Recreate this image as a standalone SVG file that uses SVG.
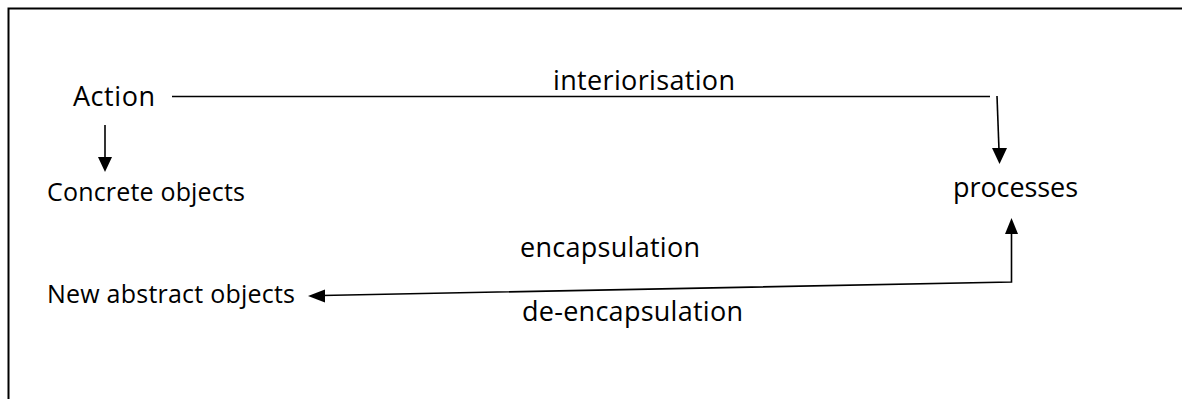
<svg xmlns="http://www.w3.org/2000/svg" width="1182" height="399" viewBox="0 0 1182 399">
<style>
.t{font-family:"Open Sans","Liberation Sans",sans-serif;fill:#000}
.big{font-size:27px}
.small{font-size:25px}
.ln{stroke:#000;stroke-width:1.6;fill:none}
</style>
<defs>
<marker id="ah" markerWidth="10" markerHeight="10" refX="9" refY="5" orient="auto" markerUnits="userSpaceOnUse" viewBox="0 0 10 10">
<path d="M0,0 L10,5 L0,10 Z" fill="#000"/>
</marker>
</defs>
<rect width="1182" height="399" fill="#fff"/>
<g id="frame">
<path d="M8.5,399 L8.5,8.5 L1182,8.5" stroke="#000" stroke-width="2" fill="none"/>
</g>
<g id="connectors">
<path class="ln" d="M172,96.5 L990,96.5"/>
<path d="M997,96 L999,150" class="ln"/>
<path d="M992,148 L1007,148 L999.5,164 Z" fill="#000"/>
<path d="M105,125 L105,158" class="ln"/>
<path d="M98,157 L112,157 L105,172 Z" fill="#000"/>
<path d="M1011.5,233 L1011.5,282 L322,295.5" class="ln"/>
<path d="M1005,234 L1018,234 L1011.5,218 Z" fill="#000"/>
<path d="M308,296 L325,289.5 L325,302.5 Z" fill="#000"/>
</g>
<g id="node-action"><text class="t big" x="73" y="106" textLength="82">Action</text></g>
<g id="node-concrete"><text class="t small" x="47" y="201" textLength="198">Concrete objects</text></g>
<g id="node-processes"><text class="t big" x="953" y="197" textLength="125">processes</text></g>
<g id="node-new-abstract"><text class="t small" x="47" y="303" textLength="248">New abstract objects</text></g>
<g id="labels">
<text class="t big" x="553" y="90" textLength="182">interiorisation</text>
<text class="t big" x="520" y="257" textLength="180">encapsulation</text>
<text class="t big" x="522" y="321" textLength="221">de-encapsulation</text>
</g>
</svg>
